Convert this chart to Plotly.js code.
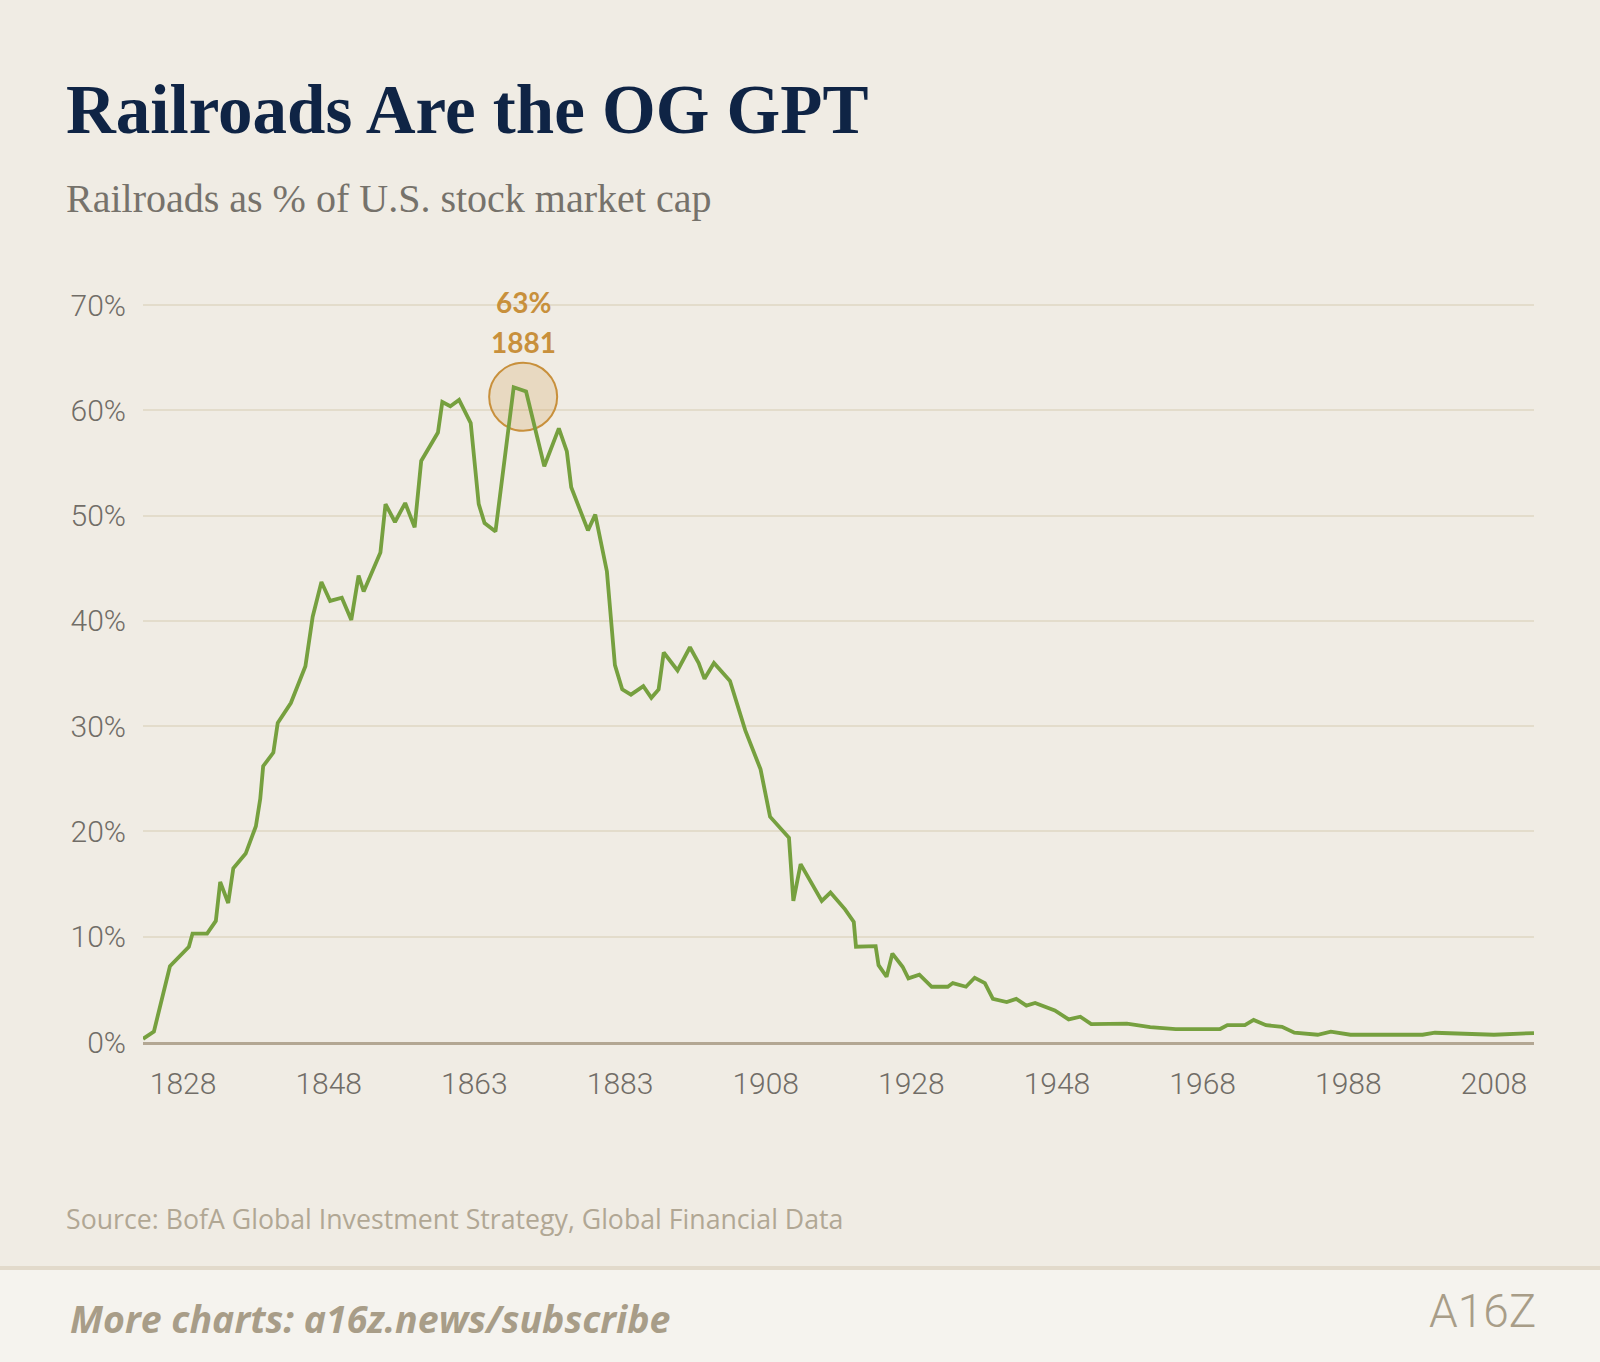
<!DOCTYPE html>
<html>
<head>
<meta charset="utf-8">
<script src="https://cdn.plot.ly/plotly-3.0.1.min.js"></script>
<style>
  html, body { margin: 0; padding: 0; background: #f0ece4; }
  #chart { width: 1600px; height: 1362px; }
</style>
</head>
<body>
<div id="chart"></div>
<script>
// ---------- DATA ----------
// Observation position along the category axis (ticks every 20 observations)
const obsIndex = [
  -5.5, -4, -1.8, 0.8, 1.3, 3.3, 4.5, 5.1, 6.2, 6.9, 8.6, 10, 10.6, 11, 12.4, 13,
  14.8, 16.8, 17.8, 19, 20.2, 21.8, 23.1, 24.1, 24.8, 27.1, 27.8, 29.1, 30.5, 31.8,
  32.7, 35, 35.6, 36.7, 37.9, 39.5, 40.6, 41.4, 42.9, 45.4, 47.1, 49.6, 51.6, 52.7,
  53.3, 55.6, 56.6, 58.2, 59.3, 60.3, 61.5, 63.2, 64.3, 65.3, 66, 67.9, 69.6, 70.8,
  71.6, 72.9, 75.1, 77.2, 79.3, 80.6, 83.2, 83.8, 84.8, 87.7, 88.9, 90.9, 92.1, 92.4,
  95.1, 95.5, 96.6, 97.4, 98.8, 99.6, 101.1, 102.8, 105, 105.7, 107.5, 108.7, 110.1,
  111.2, 113.1, 114.4, 115.8, 117, 119.7, 121.6, 123.2, 124.7, 129.6, 132.8, 136.3,
  142.4, 143.4, 145.8, 147, 148.7, 150.9, 152.6, 155.8, 157.6, 160.3, 170.2, 171.9,
  180, 185.5
];
// Railroads as % of U.S. stock market cap
const railShare = [
  0.3, 1.0, 7.2, 9.05, 10.3, 10.3, 11.5, 15.2, 13.2, 16.5, 17.9, 20.5, 23.1, 26.2, 27.5, 30.3,
  32.2, 35.7, 40.4, 43.7, 41.9, 42.2, 40.1, 44.3, 42.8, 46.5, 51.1, 49.4, 51.2, 48.9,
  55.2, 57.9, 60.8, 60.4, 61.0, 58.8, 51.1, 49.3, 48.5, 62.2, 61.8, 54.7, 58.3, 56.1,
  52.7, 48.6, 50.1, 44.7, 35.8, 33.5, 33.0, 33.8, 32.7, 33.5, 37.0, 35.3, 37.5, 36.0,
  34.5, 36.0, 34.3, 29.6, 25.9, 21.4, 19.4, 13.4, 16.9, 13.4, 14.2, 12.6, 11.4, 9.05,
  9.1, 7.3, 6.2, 8.4, 7.15, 6.05, 6.4, 5.25, 5.25, 5.6, 5.25, 6.1, 5.6,
  4.1, 3.8, 4.1, 3.45, 3.7, 3.0, 2.15, 2.4, 1.7, 1.74, 1.42, 1.23,
  1.23, 1.6, 1.6, 2.1, 1.6, 1.45, 0.88, 0.69, 0.98, 0.69, 0.69, 0.88,
  0.69, 0.85
];
// X-axis tick labels and their observation positions
const xTickPos = [0, 20, 40, 60, 80, 100, 120, 140, 160, 180];
const xTickLabels = ['1828', '1848', '1863', '1883', '1908', '1928', '1948', '1968', '1988', '2008'];
// Y-axis ticks
const yTickVals = [0, 10, 20, 30, 40, 50, 60, 70];
const yTickLabels = ['0%', '10%', '20%', '30%', '40%', '50%', '60%', '70%'];
// Peak highlight
const peakX = [46.7];
const peakY = [61.3];
const peakValueLabel = '63%';
const peakYearLabel = '1881';

// ---------- LAYOUT HELPERS ----------
const L = 143, R = 1534, T = 302, B = 1042;
const px = x => (x - L) / (R - L);
const py = y => (B - y) / (B - T);

const green = '#76a03f';
const gold = '#c8903c';

const traces = [
  {
    x: peakX, y: peakY, type: 'scatter', mode: 'markers', hoverinfo: 'skip',
    marker: { size: 68, color: 'rgba(205,150,70,0.22)', line: { color: gold, width: 2 } },
    cliponaxis: false, showlegend: false
  },
  {
    x: obsIndex, y: railShare, type: 'scatter', mode: 'lines',
    line: { color: green, width: 3.8, shape: 'linear' },
    cliponaxis: false, showlegend: false
  }
];

const tickFont = { family: 'Roboto, sans-serif', size: 30, color: '#716d67', weight: 300 };

const layout = {
  width: 1600, height: 1362,
  paper_bgcolor: '#f0ece4', plot_bgcolor: '#f0ece4',
  margin: { l: L, r: 1600 - R, t: T, b: 1362 - B, pad: 0 },
  showlegend: false,
  xaxis: {
    type: 'linear', range: [-5.5, 185.5],
    tickmode: 'array', tickvals: xTickPos, ticktext: xTickLabels,
    showgrid: false, zeroline: false,
    showline: true, linecolor: '#b3a793', linewidth: 3,
    ticks: '', ticklabelstandoff: 13,
    tickfont: tickFont, fixedrange: true
  },
  yaxis: {
    range: [0, 70.3], tickmode: 'array', tickvals: yTickVals, ticktext: yTickLabels,
    showgrid: true, gridcolor: '#e3dccb', gridwidth: 2,
    zeroline: false, showline: false, ticks: '', ticklabelstandoff: 16,
    tickfont: tickFont, fixedrange: true
  },
  shapes: [
    { type: 'rect', xref: 'paper', yref: 'paper', x0: px(0), x1: px(1600), y0: py(1362), y1: py(1268),
      fillcolor: '#f5f3ee', line: { width: 0 }, layer: 'below' },
    { type: 'line', xref: 'paper', yref: 'paper', x0: px(0), x1: px(1600), y0: py(1268), y1: py(1268),
      line: { color: '#e2dacb', width: 4 } }
  ],
  annotations: [
    { text: 'Railroads Are the OG GPT', xref: 'paper', yref: 'paper', x: px(64), y: py(110),
      xanchor: 'left', yanchor: 'middle', showarrow: false,
      font: { family: 'Liberation Serif, serif', size: 69, weight: 700, color: '#0f2445' } },
    { text: 'Railroads as % of U.S. stock market cap', xref: 'paper', yref: 'paper', x: px(64), y: py(198),
      xanchor: 'left', yanchor: 'middle', showarrow: false,
      font: { family: 'Liberation Serif, serif', size: 40, color: '#76726b' } },
    { text: 'Source: BofA Global Investment Strategy, Global Financial Data', xref: 'paper', yref: 'paper',
      x: px(64), y: py(1218), xanchor: 'left', yanchor: 'middle', showarrow: false,
      font: { family: 'Open Sans, sans-serif', size: 26.7, color: '#b1a794' } },
    { text: 'More charts: a16z.news/subscribe', xref: 'paper', yref: 'paper',
      x: px(68), y: py(1318), xanchor: 'left', yanchor: 'middle', showarrow: false,
      font: { family: 'Open Sans, sans-serif', size: 37.5, weight: 700, style: 'italic', color: '#a89d88' } },
    { text: 'A16Z', xref: 'paper', yref: 'paper',
      x: px(1538), y: py(1311), xanchor: 'right', yanchor: 'middle', showarrow: false,
      font: { family: 'Roboto, sans-serif', size: 46, weight: 300, color: '#a89d88' } },
    { text: peakValueLabel, xref: 'x', yref: 'y', x: peakX[0], y: peakY[0], yshift: 95,
      xanchor: 'center', yanchor: 'middle', showarrow: false,
      font: { family: 'Lato, sans-serif', size: 28, weight: 700, color: gold } },
    { text: peakYearLabel, xref: 'x', yref: 'y', x: peakX[0], y: peakY[0], yshift: 55,
      xanchor: 'center', yanchor: 'middle', showarrow: false,
      font: { family: 'Lato, sans-serif', size: 28, weight: 700, color: gold } }
  ]
};

Plotly.newPlot('chart', traces, layout, { displayModeBar: false, staticPlot: true });
</script>
</body>
</html>
